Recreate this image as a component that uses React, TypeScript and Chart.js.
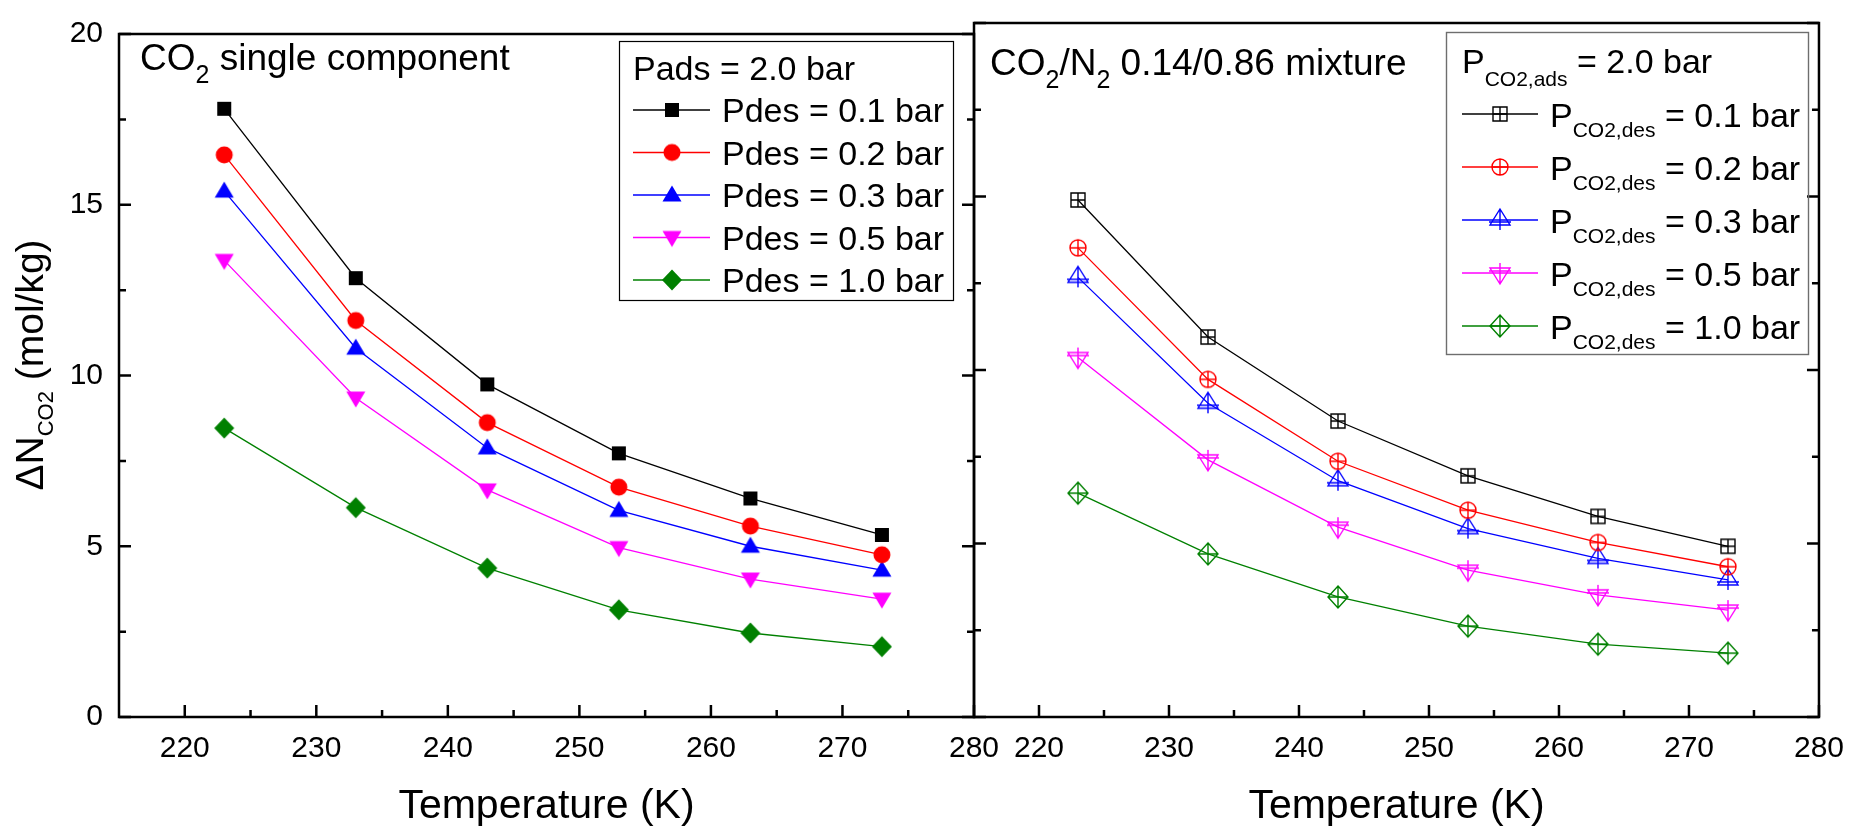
import React, { useEffect, useRef } from 'react';
import { Chart, registerables } from 'chart.js';

Chart.register(...registerables);

const W = 1858;
const H = 826;
const FONT = '"Liberation Sans", Arial, Helvetica, sans-serif';

// ---- data ----
const temps = [223, 233, 243, 253, 263, 273];
const xTickValues = [220, 230, 240, 250, 260, 270, 280];
const yTickValues = [0, 5, 10, 15, 20];
const desPressures = ['0.1', '0.2', '0.3', '0.5', '1.0'];

// CO2 single component
const single01 = [17.81, 12.85, 9.74, 7.72, 6.4, 5.33];
const single02 = [16.46, 11.61, 8.62, 6.73, 5.59, 4.75];
const single03 = [15.4, 10.8, 7.88, 6.05, 5.0, 4.3];
const single05 = [13.37, 9.34, 6.65, 4.96, 4.04, 3.45];
const single10 = [8.46, 6.13, 4.36, 3.14, 2.46, 2.06];

// CO2/N2 0.14/0.86 mixture
const mix01 = [14.9, 10.95, 8.53, 6.95, 5.78, 4.92];
const mix02 = [13.52, 9.73, 7.37, 5.96, 5.03, 4.33];
const mix03 = [12.67, 9.04, 6.81, 5.43, 4.57, 3.95];
const mix05 = [10.36, 7.41, 5.47, 4.23, 3.52, 3.08];
const mix10 = [6.45, 4.7, 3.46, 2.62, 2.1, 1.84];

const colors = ['#000000', '#ff0000', '#0000ff', '#ff00ff', '#008000'];
const shapes = ['square', 'circle', 'up', 'down', 'diamond'];

type Run = [string, number, number];

function drawRuns(ctx: CanvasRenderingContext2D, runs: Run[], x: number, y: number, center = false) {
  let total = 0;
  for (const [t, s] of runs) {
    ctx.font = `${s}px ${FONT}`;
    total += ctx.measureText(t).width;
  }
  let cx = center ? x - total / 2 : x;
  ctx.textAlign = 'left';
  ctx.textBaseline = 'alphabetic';
  for (const [t, s, dy] of runs) {
    ctx.font = `${s}px ${FONT}`;
    ctx.fillText(t, cx, y + dy);
    cx += ctx.measureText(t).width;
  }
}

function makeMarker(shape: string, color: string, open: boolean): HTMLCanvasElement {
  const c = document.createElement('canvas');
  c.width = 30;
  c.height = 30;
  const g = c.getContext('2d')!;
  g.translate(15, 15);
  g.fillStyle = color;
  g.strokeStyle = color;
  g.lineWidth = 1.4;
  g.beginPath();
  if (!open) {
    if (shape === 'square') g.rect(-7, -7, 14, 14);
    else if (shape === 'circle') g.arc(0, 0, 8.5, 0, Math.PI * 2);
    else if (shape === 'up') { g.moveTo(0, -9.5); g.lineTo(9.5, 6.5); g.lineTo(-9.5, 6.5); g.closePath(); }
    else if (shape === 'down') { g.moveTo(0, 9.5); g.lineTo(9.5, -6.5); g.lineTo(-9.5, -6.5); g.closePath(); }
    else { g.moveTo(0, -10.5); g.lineTo(10, 0); g.lineTo(0, 10.5); g.lineTo(-10, 0); g.closePath(); }
    g.fill();
    return c;
  }
  if (shape === 'square') {
    g.rect(-7, -7, 14, 14);
    g.moveTo(-7, 0); g.lineTo(7, 0); g.moveTo(0, -7); g.lineTo(0, 7);
  } else if (shape === 'circle') {
    g.arc(0, 0, 8, 0, Math.PI * 2);
    g.moveTo(-8, 0); g.lineTo(8, 0); g.moveTo(0, -8); g.lineTo(0, 8);
  } else if (shape === 'up') {
    g.moveTo(0, -11); g.lineTo(10, 5); g.lineTo(-10, 5); g.closePath();
    g.moveTo(-11, 2); g.lineTo(11, 2); g.moveTo(0, -11); g.lineTo(0, 10);
  } else if (shape === 'down') {
    g.moveTo(0, 11); g.lineTo(10, -5); g.lineTo(-10, -5); g.closePath();
    g.moveTo(-11, -2); g.lineTo(11, -2); g.moveTo(0, 11); g.lineTo(0, -10);
  } else {
    g.moveTo(0, -11); g.lineTo(10, 0); g.lineTo(0, 11); g.lineTo(-10, 0); g.closePath();
    g.moveTo(-10, 0); g.lineTo(10, 0); g.moveTo(0, -11); g.lineTo(0, 11);
  }
  g.stroke();
  return c;
}

function panelPlugin(isLeft: boolean, markers: HTMLCanvasElement[]) {
  return {
    id: 'panelDecor' + (isLeft ? 'L' : 'R'),
    afterDraw(chart: any) {
      const ctx: CanvasRenderingContext2D = chart.ctx;
      const { left, right, top, bottom } = chart.chartArea;
      const xs = chart.scales.x;
      const ys = chart.scales.y;
      ctx.save();
      ctx.strokeStyle = '#000';
      ctx.fillStyle = '#000';
      ctx.lineWidth = 2.5;
      // frame
      ctx.strokeRect(left, top, right - left, bottom - top);
      // y ticks (both sides, inward)
      ctx.beginPath();
      for (let v = 0; v <= 20; v += 2.5) {
        const py = ys.getPixelForValue(v);
        const len = v % 5 === 0 ? 12 : 7;
        ctx.moveTo(left, py); ctx.lineTo(left + len, py);
        ctx.moveTo(right, py); ctx.lineTo(right - len, py);
      }
      // x ticks (bottom, inward)
      for (let v = 220; v <= 280; v += 5) {
        const px = xs.getPixelForValue(v);
        const len = v % 10 === 0 ? 12 : 7;
        ctx.moveTo(px, bottom); ctx.lineTo(px, bottom - len);
      }
      ctx.stroke();

      // x axis title
      drawRuns(ctx, [['Temperature (K)', 41, 0]], (left + right) / 2, 818, true);

      if (isLeft) {
        // y axis title (rotated)
        ctx.save();
        ctx.translate(43, 365);
        ctx.rotate(-Math.PI / 2);
        drawRuns(ctx, [['\u0394N', 39, 0], ['CO2', 22, 10], [' (mol/kg)', 39, 0]], 0, 0, true);
        ctx.restore();
        // panel title
        drawRuns(ctx, [['CO', 37, 0], ['2', 25, 13], [' single component', 37, 0]], 140, 70);
        // legend
        ctx.lineWidth = 1.2;
        ctx.strokeStyle = '#000';
        ctx.strokeRect(619.5, 41.5, 334, 259);
        drawRuns(ctx, [['Pads = 2.0 bar', 34, 0]], 633, 80);
        for (let i = 0; i < 5; i++) {
          const cy = 110 + i * 42.5;
          ctx.strokeStyle = colors[i];
          ctx.lineWidth = 1.4;
          ctx.beginPath();
          ctx.moveTo(633, cy); ctx.lineTo(710, cy);
          ctx.stroke();
          ctx.drawImage(markers[i], 672 - 15, cy - 15);
          ctx.fillStyle = '#000';
          drawRuns(ctx, [['Pdes = ' + desPressures[i] + ' bar', 34, 0]], 722, cy + 12);
        }
      } else {
        drawRuns(ctx, [['CO', 37, 0], ['2', 25, 13], ['/N', 37, 0], ['2', 25, 13], [' 0.14/0.86 mixture', 37, 0]], 990, 75);
        ctx.lineWidth = 1.4;
        ctx.strokeStyle = '#6e6e6e';
        ctx.strokeRect(1446.5, 32.5, 362, 322);
        ctx.fillStyle = '#000';
        drawRuns(ctx, [['P', 34, 0], ['CO2,ads', 21, 13], [' = 2.0 bar', 34, 0]], 1462, 73);
        for (let i = 0; i < 5; i++) {
          const cy = 114 + i * 53;
          ctx.strokeStyle = colors[i];
          ctx.lineWidth = 1.4;
          ctx.beginPath();
          ctx.moveTo(1462, cy); ctx.lineTo(1538, cy);
          ctx.stroke();
          ctx.drawImage(markers[i], 1500 - 15, cy - 15);
          ctx.fillStyle = '#000';
          drawRuns(ctx, [['P', 34, 0], ['CO2,des', 21, 10], [' = ' + desPressures[i] + ' bar', 34, 0]], 1550, cy + 13);
        }
      }
      ctx.restore();
    },
  };
}

function buildConfig(isLeft: boolean): any {
  const series = isLeft
    ? [single01, single02, single03, single05, single10]
    : [mix01, mix02, mix03, mix05, mix10];
  const markers = shapes.map((s, i) => makeMarker(s, colors[i], !isLeft));
  const datasets = series.map((arr, i) => ({
    label: 'Pdes = ' + desPressures[i] + ' bar',
    data: temps.map((t, j) => ({ x: t, y: arr[j] })),
    borderColor: colors[i],
    backgroundColor: colors[i],
    borderWidth: 1.3,
    pointStyle: markers[i],
    pointRadius: 9,
    pointHoverRadius: 9,
    tension: 0,
    fill: false,
  }));
  const tickFont = { family: FONT, size: 30 };
  return {
    type: 'line',
    data: { datasets },
    options: {
      responsive: false,
      maintainAspectRatio: false,
      animation: false,
      events: [],
      layout: {
        padding: isLeft
          ? { left: 0, top: 23, right: W - 974, bottom: 0 }
          : { left: 974, top: 23, right: W - 1829, bottom: 0 },
      },
      plugins: {
        legend: { display: false },
        tooltip: { enabled: false },
        title: { display: false },
      },
      scales: {
        x: {
          type: 'linear',
          min: 215,
          max: 280,
          grid: { display: false, drawTicks: false },
          border: { display: false },
          afterBuildTicks: (s: any) => {
            s.ticks = xTickValues.map((v) => ({ value: v }));
          },
          afterFit: (s: any) => {
            s.height = 109;
          },
          ticks: { color: '#000', font: tickFont, padding: 14, maxRotation: 0, autoSkip: false },
        },
        y: {
          type: 'linear',
          min: 0,
          max: 20,
          display: isLeft,
          grid: { display: false, drawTicks: false },
          border: { display: false },
          afterBuildTicks: (s: any) => {
            s.ticks = yTickValues.map((v) => ({ value: v }));
          },
          afterFit: (s: any) => {
            s.width = isLeft ? 119 : 0;
          },
          ticks: { color: '#000', font: tickFont, padding: 16 },
        },
      },
    },
    plugins: [panelPlugin(isLeft, markers)],
  };
}

export default function App() {
  const leftRef = useRef<HTMLCanvasElement>(null);
  const rightRef = useRef<HTMLCanvasElement>(null);
  useEffect(() => {
    const c1 = new Chart(leftRef.current!, buildConfig(true));
    const c2 = new Chart(rightRef.current!, buildConfig(false));
    return () => {
      c1.destroy();
      c2.destroy();
    };
  }, []);
  return (
    <div style={{ position: 'absolute', left: 0, top: 0, width: W, height: H, background: '#fff' }}>
      <canvas ref={leftRef} width={W} height={H} style={{ position: 'absolute', left: 0, top: 0 }} />
      <canvas ref={rightRef} width={W} height={H} style={{ position: 'absolute', left: 0, top: 0 }} />
    </div>
  );
}
